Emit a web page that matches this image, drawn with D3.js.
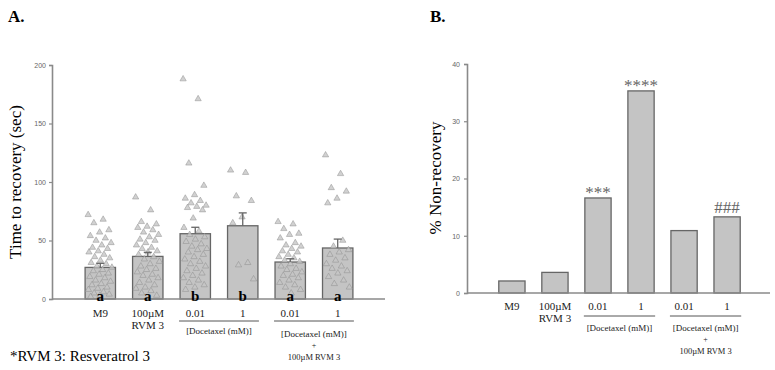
<!DOCTYPE html>
<html lang="en">
<head>
<meta charset="UTF-8">
<title>Recovery charts</title>
<script src="https://cdn.jsdelivr.net/npm/d3@7"></script>
<style>
    body { margin: 0; background: white; }
    svg { display: block; }
    .serif { font-family: "Liberation Serif", "DejaVu Serif", serif; }
    .tick text { font-family: "Liberation Sans", Arial, sans-serif; font-size: 7px; fill: #666; }
</style>
</head>
<body>
<svg id="svg" width="775" height="370"></svg>
<script>
// ---- data ----
var groups = ["M9", "RVM", "D001", "D1", "C001", "C1"];

// panel A: mean time to recovery (sec) and SEM
var meanA = [27, 36.4, 55.8, 62.6, 31.6, 43.6];
var semA = [3.5, 3.5, 5.5, 11, 2.8, 7.6];
var lettersA = ["a", "a", "b", "b", "a", "a"];
var ticksA = [0, 50, 100, 150, 200];

// individual worms per group (sec)
var pointsA = [
    [72, 68, 65, 59, 57, 54, 52, 50, 48, 46, 44, 43, 41, 40, 38, 36, 35, 33, 31, 30, 28, 27, 25, 24, 22, 21, 19, 18, 16, 15, 13, 12, 10, 9, 8, 6, 5, 4, 3, 2],
    [87, 76, 66, 64, 62, 61, 59, 57, 55, 53, 51, 50, 48, 46, 44, 43, 41, 40, 38, 36, 34, 32, 30, 28, 26, 25, 23, 21, 20, 18, 16, 14, 12, 10, 9, 7, 5, 3],
    [188, 171, 116, 97, 89, 86, 84, 82, 80, 79, 78, 76, 69, 61, 58, 55, 53, 51, 49, 47, 45, 43, 42, 40, 38, 36, 34, 32, 30, 28, 26, 24, 22, 20, 18, 16, 14, 12, 10, 8],
    [110, 108, 88, 84, 70, 65, 31, 29, 17],
    [66, 64, 60, 56, 55, 52, 48, 46, 45, 43, 41, 40, 38, 36, 35, 33, 32, 30, 28, 26, 25, 23, 21, 20, 18, 16, 14, 12, 10, 8, 5],
    [123, 107, 95, 92, 86, 82, 50, 45, 42, 40, 38, 35, 33, 30, 28, 26, 24, 22, 19, 16, 13, 10]
];

// panel B: % non-recovery
var valuesB = [2.1, 3.6, 16.6, 35.3, 10.9, 13.3];
var marksB = ["", "", "***", "****", "", "###"];
var ticksB = [0, 10, 20, 30, 40];

var svg = d3.select("#svg");

// ---- shared helpers ----
function styleAxis(g) {
    g.select(".domain").attr("stroke", "#8a8a8a").attr("stroke-width", 1.6);
    g.selectAll(".tick line").attr("stroke", "#8a8a8a").attr("stroke-width", 1.2);
}

// y0: baseline of first label row, lineY: bracket line,
// docY: baseline of "[Docetaxel (mM)]" under each bracket
function drawXLabels(g, x, y0, lineY, docY) {
    var fs = 11;
    var cx = function(k) { return x(k) + x.bandwidth() / 2; };
    function label(px, py, size, txt) {
        g.append("text").attr("class", "serif").attr("x", px).attr("y", py)
            .attr("text-anchor", "middle").attr("font-size", size).attr("fill", "#222").text(txt);
    }
    label(cx("M9"), y0, fs, "M9");
    label(cx("RVM"), y0, fs, "100µM");
    label(cx("RVM"), y0 + 11.5, fs, "RVM 3");
    [["D001", "0.01"], ["D1", "1"], ["C001", "0.01"], ["C1", "1"]].forEach(function(p) {
        label(cx(p[0]), y0, fs, p[1]);
    });
    // group brackets
    [["D001", "D1"], ["C001", "C1"]].forEach(function(p, i) {
        var xa = x(p[0]) - 1, xb = x(p[1]) + x.bandwidth() + 1;
        g.append("line").attr("x1", xa).attr("x2", xb).attr("y1", lineY).attr("y2", lineY)
            .attr("stroke", "#555").attr("stroke-width", 1);
        var mid = (xa + xb) / 2;
        label(mid, docY[i], 9, "[Docetaxel (mM)]");
        if (i) {
            label(mid, docY[i] + 11, 8, "+");
            label(mid, docY[i] + 22.5, 8.5, "100µM RVM 3");
        }
    });
}

// ================= Panel A =================
var xA = d3.scaleBand().domain(groups).range([68, 370]).padding(0.36);
var yA = d3.scaleLinear().domain([0, 200]).range([299, 65]);

var gA = svg.append("g");

gA.append("text").attr("class", "serif").attr("x", 8).attr("y", 22)
    .attr("font-size", 17).attr("font-weight", "bold").text("A.");

gA.append("text").attr("class", "serif")
    .attr("transform", "translate(21,182) rotate(-90)")
    .attr("text-anchor", "middle").attr("font-size", 17)
    .text("Time to recovery (sec)");

gA.append("g").attr("transform", "translate(52,0)")
    .call(d3.axisLeft(yA).tickValues(ticksA).tickSize(3).tickPadding(3))
    .call(styleAxis);

// bars
gA.selectAll("rect.bar").data(meanA).enter().append("rect")
    .attr("class", "bar")
    .attr("x", function(d, i) { return xA(groups[i]); })
    .attr("y", function(d) { return yA(d); })
    .attr("width", xA.bandwidth())
    .attr("height", function(d) { return yA(0) - yA(d); })
    .attr("fill", "#c4c4c4").attr("stroke", "#666").attr("stroke-width", 1.3);

// scatter triangles
var tri = d3.symbol().type(d3.symbolTriangle).size(17);
pointsA.forEach(function(pts, gi) {
    var cx = xA(groups[gi]) + xA.bandwidth() / 2;
    var w = xA.bandwidth() * 0.8;
    gA.selectAll("path.pt" + gi).data(pts).enter().append("path")
        .attr("class", "pt" + gi)
        .attr("d", tri)
        .attr("transform", function(d, i) {
            var off = (((i * 0.618034) % 1) - 0.5) * w;
            return "translate(" + (cx + off) + "," + yA(d) + ")";
        })
        .attr("fill", "#c6c6c6").attr("fill-opacity", 0.8)
        .attr("stroke", "#8c8c8c").attr("stroke-width", 0.6).attr("stroke-opacity", 0.8);
});

// error bars
meanA.forEach(function(m, i) {
    var cx = xA(groups[i]) + xA.bandwidth() / 2;
    gA.append("line").attr("x1", cx).attr("x2", cx)
        .attr("y1", yA(m)).attr("y2", yA(m + semA[i]))
        .attr("stroke", "#666").attr("stroke-width", 1.3);
    gA.append("line").attr("x1", cx - 4).attr("x2", cx + 4)
        .attr("y1", yA(m + semA[i])).attr("y2", yA(m + semA[i]))
        .attr("stroke", "#666").attr("stroke-width", 1.3);
});

// x axis line
gA.append("line").attr("x1", 52).attr("x2", 385).attr("y1", yA(0)).attr("y2", yA(0))
    .attr("stroke", "#8a8a8a").attr("stroke-width", 1.6);

// letters
gA.selectAll("text.letter").data(lettersA).enter().append("text")
    .attr("class", "serif letter")
    .attr("x", function(d, i) { return xA(groups[i]) + xA.bandwidth() / 2; })
    .attr("y", 301)
    .attr("text-anchor", "middle").attr("font-size", 15).attr("font-weight", "bold")
    .text(function(d) { return d; });

drawXLabels(gA, xA, 317, 321, [334, 337]);

gA.append("text").attr("class", "serif").attr("x", 10).attr("y", 361)
    .attr("font-size", 15).text("*RVM 3: Resveratrol 3");

// ================= Panel B =================
var xB = d3.scaleBand().domain(groups).range([482, 757]).padding(0.39);
var yB = d3.scaleLinear().domain([0, 40]).range([293, 64]);

var gB = svg.append("g");

gB.append("text").attr("class", "serif").attr("x", 430).attr("y", 22)
    .attr("font-size", 17).attr("font-weight", "bold").text("B.");

gB.append("text").attr("class", "serif")
    .attr("transform", "translate(441,178) rotate(-90)")
    .attr("text-anchor", "middle").attr("font-size", 17)
    .text("% Non-recovery");

gB.append("g").attr("transform", "translate(467,0)")
    .call(d3.axisLeft(yB).tickValues(ticksB).tickSize(3).tickPadding(4))
    .call(styleAxis);

gB.selectAll("rect.bar").data(valuesB).enter().append("rect")
    .attr("class", "bar")
    .attr("x", function(d, i) { return xB(groups[i]); })
    .attr("y", function(d) { return yB(d); })
    .attr("width", xB.bandwidth())
    .attr("height", function(d) { return yB(0) - yB(d); })
    .attr("fill", "#c4c4c4").attr("stroke", "#666").attr("stroke-width", 1.3);

gB.selectAll("text.mark").data(marksB).enter().append("text")
    .attr("class", "serif mark")
    .attr("x", function(d, i) { return xB(groups[i]) + xB.bandwidth() / 2; })
    .attr("y", function(d, i) { return yB(valuesB[i]) - (d.charAt(0) === "#" ? 4 : 0); })
    .attr("text-anchor", "middle").attr("font-size", 17).attr("fill", "#666")
    .text(function(d) { return d; });

gB.append("line").attr("x1", 467).attr("x2", 770).attr("y1", yB(0)).attr("y2", yB(0))
    .attr("stroke", "#8a8a8a").attr("stroke-width", 1.6);

drawXLabels(gB, xB, 310, 316, [331, 331]);
</script>
</body>
</html>
